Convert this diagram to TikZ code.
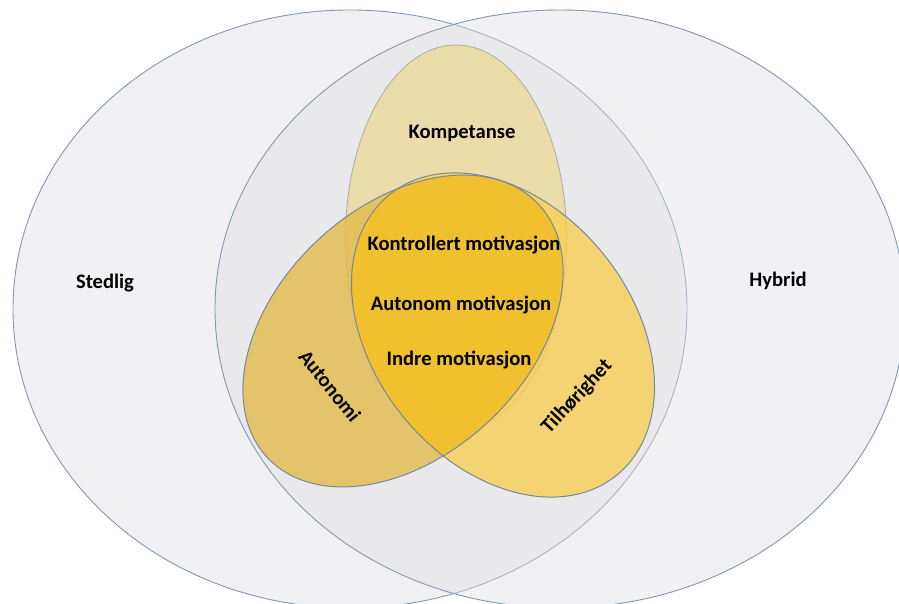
\documentclass[tikz,border=0pt]{standalone}
\usepackage{fontspec}
\setmainfont{Carlito}
\definecolor{BigFill}{RGB}{221,221,226}
\definecolor{BigLine}{RGB}{128,152,178}
\definecolor{KompFill}{RGB}{234,221,170}
\definecolor{KompLine}{RGB}{170,172,165}
\definecolor{AutoFill}{RGB}{226,187,74}
\definecolor{TilFill}{RGB}{247,208,84}
\definecolor{CoreFill}{RGB}{240,191,42}
\definecolor{RingLine}{RGB}{118,136,156}

\begin{document}
\begin{tikzpicture}[x=1pt,y=1pt,
    big/.style={fill=BigFill,fill opacity=0.4,draw=BigLine,line width=0.9pt},
    autopos/.style={shift={(403,273)},rotate=43},
    tilpos/.style={shift={(503,269)},rotate=129},
    lbl/.style={font=\fontsize{20.6}{24}\selectfont\bfseries,text=black,inner sep=0pt}]
    \useasboundingbox (0,0) rectangle (899,604);
    \clip (0,0) rectangle (899,604);
    % stedlig / hybrid
    \path[big] (350,295) ellipse [x radius=337pt,y radius=299pt];
    \path[big] (560,295) ellipse [x radius=345pt,y radius=299pt];
    % kompetanse
    \path[fill=KompFill,draw=KompLine,line width=0.8pt] (456,366) ellipse [x radius=110.5pt,y radius=193pt];
    % autonomi / tilhorighet
    \fill[AutoFill,fill opacity=0.8,autopos] (0,0) ellipse [x radius=185.5pt,y radius=124.6pt];
    \fill[TilFill,fill opacity=0.8,tilpos] (0,0) ellipse [x radius=180.5pt,y radius=129pt];
    \begin{scope}
      \clip[autopos] (0,0) ellipse [x radius=185.5pt,y radius=124.6pt];
      \fill[CoreFill,fill opacity=0.9,tilpos] (0,0) ellipse [x radius=180.5pt,y radius=129pt];
    \end{scope}
    \draw[RingLine,line width=1pt,autopos] (0,0) ellipse [x radius=185.5pt,y radius=124.6pt];
    \draw[RingLine,line width=1pt,tilpos] (0,0) ellipse [x radius=180.5pt,y radius=129pt];

    \node[lbl] (stedlig) at (105,321) {Stedlig};
    \node[lbl] (hybrid) at (778,323) {Hybrid};
    \node[lbl] (kompetanse) at (462,471) {Kompetanse};
    \node[lbl] (kontrollert) at (464,359) {Kontrollert motivasjon};
    \node[lbl] (autonom) at (461,299) {Autonom motivasjon};
    \node[lbl] (indre) at (459,244) {Indre motivasjon};
    \node[lbl,rotate=-51] (autonomi) at (330,218) {Autonomi};
    \node[lbl,rotate=47] (tilhorighet) at (577,207) {Tilhørighet};
\end{tikzpicture}
\end{document}
